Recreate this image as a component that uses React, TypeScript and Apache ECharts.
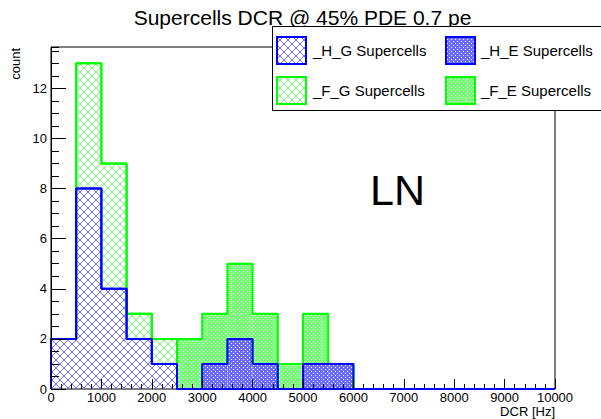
import React, { useEffect, useRef } from 'react';
import * as echarts from 'echarts';

// ---- data ----
const binEdges = [0, 500, 1000, 1500, 2000, 2500, 3000, 3500, 4000, 4500, 5000, 5500, 6000, 6500, 7000, 7500, 8000, 8500, 9000, 9500, 10000];
const hG = [2, 8, 4, 2, 1, 0, 0, 0, 0, 0, 0, 0, 0, 0, 0, 0, 0, 0, 0, 0];
const hE = [0, 0, 0, 0, 0, 0, 1, 2, 1, 0, 1, 1, 0, 0, 0, 0, 0, 0, 0, 0];
const fG = [0, 5, 5, 1, 1, 0, 0, 0, 0, 0, 0, 0, 0, 0, 0, 0, 0, 0, 0, 0];
const fE = [0, 0, 0, 0, 0, 2, 2, 3, 2, 1, 2, 0, 0, 0, 0, 0, 0, 0, 0, 0];
const seriesNames = ['_H_G Supercells', '_H_E Supercells', '_F_G Supercells', '_F_E Supercells'];
const titleText = 'Supercells DCR @ 45% PDE 0.7 pe';
const xName = 'DCR [Hz]';
const yName = 'count';
const labelText = 'LN';
const xMin = 0;
const xMax = 10000;
const yMax = 13.65;

const FONT = "'Liberation Sans', Arial, Helvetica, sans-serif";
const BLUE = '#0000ff';
const GREEN = '#00ff00';

function hexToRgb(h: string) {
  const n = parseInt(h.slice(1), 16);
  return [(n >> 16) & 255, (n >> 8) & 255, n & 255];
}

function makeTile(size: number, paint: (x: number, y: number) => string | null) {
  const c = document.createElement('canvas');
  c.width = size;
  c.height = size;
  const ctx = c.getContext('2d')!;
  const img = ctx.createImageData(size, size);
  for (let y = 0; y < size; y++) {
    for (let x = 0; x < size; x++) {
      const col = paint(x, y);
      const o = (y * size + x) * 4;
      if (col) {
        const [r, g, b] = hexToRgb(col);
        img.data[o] = r;
        img.data[o + 1] = g;
        img.data[o + 2] = b;
        img.data[o + 3] = 255;
      } else {
        img.data[o + 3] = 0;
      }
    }
  }
  ctx.putImageData(img, 0, 0);
  return { image: c.toDataURL(), repeat: 'repeat', imageWidth: size, imageHeight: size } as any;
}

function hatch(color: string) {
  return makeTile(8, (x, y) => (x === y || x === 7 - y ? color : null));
}

function dots(base: string) {
  return makeTile(4, (x, y) => ((x === 1 && y === 1) || (x === 3 && y === 3) ? '#ffffff' : base));
}

export default function App() {
  const ref = useRef<HTMLDivElement>(null);
  useEffect(() => {
    document.body.style.margin = '0';
    const chart = echarts.init(ref.current!, null, { renderer: 'svg' });

    const stackOrder = [hG, hE, fG, fE];
    const cum: number[][] = [];
    stackOrder.forEach((arr, k) => {
      cum.push(arr.map((v, i) => v + (k > 0 ? cum[k - 1][i] : 0)));
    });
    const bottoms = cum.map((_, k) => (k > 0 ? cum[k - 1] : hG.map(() => 0)));

    const pats = [hatch('#6e6eff'), dots('#6a6aff'), hatch('#78ff78'), dots('#74ff74')];
    const lineColors = [BLUE, BLUE, GREEN, GREEN];

    const fillData = (k: number) => {
      const out: number[][] = [];
      for (let i = 0; i < binEdges.length - 1; i++) {
        if (cum[k][i] > bottoms[k][i]) out.push([binEdges[i], binEdges[i + 1], bottoms[k][i], cum[k][i]]);
      }
      return out;
    };
    const outlineData = (k: number) => {
      const out: number[][] = [[binEdges[0], 0]];
      for (let i = 0; i < binEdges.length - 1; i++) {
        out.push([binEdges[i], cum[k][i]]);
        out.push([binEdges[i + 1], cum[k][i]]);
      }
      out.push([binEdges[binEdges.length - 1], 0]);
      return out;
    };

    const drawOrder = [3, 2, 1, 0];
    const series: any[] = [];
    drawOrder.forEach((k) => {
      series.push({
        type: 'custom',
        name: seriesNames[k] + ' fill',
        data: fillData(k),
        encode: { x: [0, 1], y: [2, 3] },
        z: 2,
        renderItem: (params: any, api: any) => {
          const p0 = api.coord([api.value(0), api.value(2)]);
          const p1 = api.coord([api.value(1), api.value(3)]);
          return {
            type: 'rect',
            shape: { x: p0[0], y: p1[1], width: p1[0] - p0[0], height: p0[1] - p1[1] },
            style: { fill: pats[k], stroke: 'none' },
          };
        },
      });
    });
    drawOrder.forEach((k) => {
      series.push({
        type: 'line',
        name: seriesNames[k],
        data: outlineData(k),
        symbol: 'none',
        clip: false,
        z: 3,
        lineStyle: { color: lineColors[k], width: 2 },
      });
    });

    const legendItems: any[] = [];
    const cols = [{ sx: 277, tx: 313 }, { sx: 446, tx: 481 }];
    const rows = [{ sy: 37, ty: 50 }, { sy: 77, ty: 90 }];
    const legendPos = [
      [0, 0],
      [0, 1],
      [1, 0],
      [1, 1],
    ];
    legendPos.forEach(([r, c], k) => {
      legendItems.push({
        type: 'rect',
        z: 101,
        shape: { x: cols[c].sx, y: rows[r].sy, width: 29, height: 27 },
        style: { fill: pats[k], stroke: lineColors[k], lineWidth: 2 },
      });
      legendItems.push({
        type: 'text',
        z: 101,
        x: cols[c].tx,
        y: rows[r].ty,
        style: { text: seriesNames[k], fontSize: 15, fontFamily: FONT, fill: '#000', align: 'left', verticalAlign: 'middle' },
      });
    });

    chart.setOption({
      animation: false,
      backgroundColor: '#ffffff',
      grid: { left: 51, right: 46, top: 47, bottom: 30, show: true, borderColor: '#000', borderWidth: 1, backgroundColor: 'transparent' },
      xAxis: {
        type: 'value',
        min: xMin,
        max: xMax,
        interval: 1000,
        z: 10,
        axisLine: { show: false },
        axisTick: { show: true, inside: true, length: 10, lineStyle: { color: '#000', width: 1 } },
        minorTick: { show: true, splitNumber: 5, length: 5, lineStyle: { color: '#000', width: 1 } },
        splitLine: { show: false },
        minorSplitLine: { show: false },
        axisLabel: { fontSize: 13, color: '#000', fontFamily: FONT, margin: 2, formatter: (v: number) => String(v) },
      },
      yAxis: [
        {
          type: 'value',
          min: 0,
          max: yMax,
          interval: 2,
          position: 'left',
          z: 10,
          axisLine: { show: true, lineStyle: { color: '#000', width: 1 } },
          axisTick: { show: true, inside: true, length: 15, lineStyle: { color: '#000', width: 1 } },
          splitLine: { show: false },
          axisLabel: { fontSize: 13, color: '#000', fontFamily: FONT, margin: 4, showMaxLabel: false, formatter: (v: number) => String(v) },
        },
        {
          type: 'value',
          min: 0,
          max: yMax,
          interval: 0.5,
          position: 'left',
          offset: 0,
          z: 10,
          axisLine: { show: false },
          axisTick: { show: true, inside: true, length: 8, lineStyle: { color: '#000', width: 1 } },
          splitLine: { show: false },
          axisLabel: { show: false },
        },
      ],
      series,
      graphic: [
        {
          type: 'text',
          z: 100,
          x: 302.5,
          y: 17.5,
          style: { text: titleText, fontSize: 21, fontFamily: FONT, fill: '#000', align: 'center', verticalAlign: 'middle' },
        },
        {
          type: 'text',
          z: 100,
          x: 15.5,
          y: 48,
          rotation: Math.PI / 2,
          style: { text: yName, fontSize: 13, fontFamily: FONT, fill: '#000', align: 'right', verticalAlign: 'middle' },
        },
        {
          type: 'text',
          z: 100,
          x: 555,
          y: 411.5,
          style: { text: xName, fontSize: 13, fontFamily: FONT, fill: '#000', align: 'right', verticalAlign: 'middle' },
        },
        {
          type: 'text',
          z: 100,
          x: 370,
          y: 190,
          style: { text: labelText, fontSize: 43, fontFamily: FONT, fill: '#000', align: 'left', verticalAlign: 'middle' },
        },
        {
          type: 'rect',
          z: 100,
          shape: { x: 272.5, y: 26.5, width: 340, height: 84 },
          style: { fill: '#fff', stroke: '#000', lineWidth: 1 },
        },
        ...legendItems,
      ],
    });
    return () => chart.dispose();
  }, []);
  return <div ref={ref} style={{ width: 601, height: 419 }} />;
}
